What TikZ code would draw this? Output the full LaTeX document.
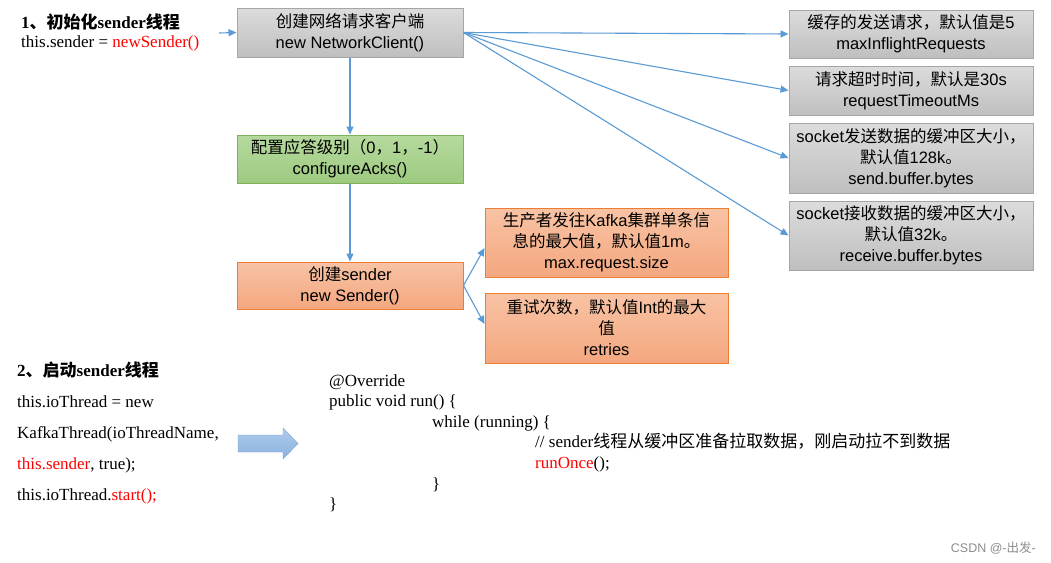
\documentclass[tikz,border=0pt]{standalone}
\usepackage{fontspec}
\setmainfont{Liberation Serif}
\newfontfamily\zh{Noto Sans CJK SC}
\newfontfamily\sans{Liberation Sans}
\newcommand{\cn}[1]{{\zh #1}}
\usetikzlibrary{arrows.meta,positioning,calc}
\definecolor{lnblue}{HTML}{5B9BD5}
\definecolor{kred}{HTML}{FF0000}
\definecolor{grayTop}{HTML}{DCDCDC}
\definecolor{grayBot}{HTML}{BFBFBF}
\definecolor{grayLine}{HTML}{A6A6A6}
\definecolor{greenTop}{HTML}{B6DA9E}
\definecolor{greenBot}{HTML}{9DCA80}
\definecolor{greenLine}{HTML}{7CB35A}
\definecolor{orgTop}{HTML}{F8C3A4}
\definecolor{orgBot}{HTML}{F4A77F}
\definecolor{orgLine}{HTML}{ED7D31}
\definecolor{bigTop}{HTML}{ADCAEA}
\definecolor{bigBot}{HTML}{8CB2DF}
\definecolor{bigLine}{HTML}{7AA6D9}

\begin{document}
\begin{tikzpicture}[x=1pt,y=-1pt,
      box/.style={draw, align=center, inner sep=2pt, line width=1pt,
        font=\sans\fontsize{16.5}{21}\selectfont},
      graybox/.style={box, draw=grayLine, top color=grayTop, bottom color=grayBot},
      greenbox/.style={box, draw=greenLine, top color=greenTop, bottom color=greenBot},
      orgbox/.style={box, draw=orgLine, top color=orgTop, bottom color=orgBot},
      link/.style={draw=lnblue, line width=1.1pt, -{Triangle[length=8pt,width=7pt]}},
      txt/.style={anchor=base west, inner sep=0pt, font=\fontsize{17}{20}\selectfont},
      code/.style={anchor=base west, inner sep=0pt, font=\fontsize{17}{20}\selectfont}]
  \fill[white] (0,0) rectangle (1051,562);
  \useasboundingbox (0,0) rectangle (1051,562);

  % main chain
  \node[graybox, minimum width=226pt, minimum height=49pt] (nc) at (350,32.5)
    {\cn{创建网络请求客户端}\\new NetworkClient()};
  \node[greenbox, minimum width=226pt, minimum height=48pt] (acks) at (350,159)
    {\cn{配置应答级别（}0\cn{，}1\cn{，}-1\cn{）}\\configureAcks()};
  \node[orgbox, minimum width=226pt, minimum height=47pt] (snd) at (350,285.5)
    {\cn{创建}sender\\new Sender()};
  \node[orgbox, minimum width=243pt, minimum height=69pt] (maxreq) at (606.5,242.5)
    {\cn{生产者发往}Kafka\cn{集群单条信}\\\cn{息的最大值，默认值}1m\cn{。}\\max.request.size};
  \node[orgbox, minimum width=243pt, minimum height=70pt] (retry) at (606.5,328)
    {\cn{重试次数，默认值}Int\cn{的最大}\\\cn{值}\\retries};

  % parameters of NetworkClient
  \node[graybox, minimum width=244pt, minimum height=48pt] (r1) at (911,34)
    {\cn{缓存的发送请求，默认值是}5\\maxInflightRequests};
  \node[graybox, minimum width=244pt, minimum height=49pt] (r2) at (911,90.5)
    {\cn{请求超时时间，默认是}30s\\requestTimeoutMs};
  \node[graybox, minimum width=244pt, minimum height=70pt] (r3) at (911,158)
    {socket\cn{发送数据的缓冲区大小，}\\\cn{默认值}128k\cn{。}\\send.buffer.bytes};
  \node[graybox, minimum width=244pt, minimum height=69pt] (r4) at (911,235.5)
    {socket\cn{接收数据的缓冲区大小，}\\\cn{默认值}32k\cn{。}\\receive.buffer.bytes};

  \draw[link] (nc) -- (acks);
  \draw[link] (acks) -- (snd);
  \foreach \r in {r1,r2,r3,r4}
    \draw[link] (nc.east) -- (\r.west);
  \draw[link] (snd.east) -- ([yshift=-5.5pt]maxreq.west);
  \draw[link] (snd.east) -- ([yshift=4pt]retry.west);

  % step 1
  \node[txt] (t1) at (21,28) {\textbf{1\cn{、}{\zh\bfseries 初始化}sender{\zh\bfseries 线程}}};
  \node[txt] (t1a) at (21,47) {this.sender = \textcolor{kred}{newSender()}};
  \coordinate (ent) at (219,33);
  \draw[link] (ent) -- (nc.west);

  % step 2
  \node[txt] (t2) at (17,376) {\textbf{2\cn{、}{\zh\bfseries 启动}sender{\zh\bfseries 线程}}};
  \node[txt] (t2a) at (17,407) {this.ioThread = new};
  \node[txt] (t2b) at (17,438) {KafkaThread(ioThreadName,};
  \node[txt] (t2c) at (17,469) {\textcolor{kred}{this.sender}, true);};
  \node[txt] (t2d) at (17,500) {this.ioThread.\textcolor{kred}{start();}};

  \draw[draw=bigLine, top color=bigTop, bottom color=bigBot]
    (238,435) -- (283,435) -- (283,428) -- (298,443.5) -- (283,459)
    -- (283,452) -- (238,452) -- cycle;

  % run() code
  \node[code] (c1) at (329,386) {@Override};
  \node[code] (c2) at (329,406) {public void run() \{};
  \node[code] (c3) at (432,427) {while (running) \{};
  \node[code] (c4) at (535,447) {// sender\cn{线程从缓冲区准备拉取数据，刚启动拉不到数据}};
  \node[code] (c5) at (535,468) {\textcolor{kred}{runOnce}();};
  \node[code] (c6) at (432,489) {\}};
  \node[code] (c7) at (329,509) {\}};

  \node[anchor=base east, inner sep=0pt, text=black!45,
    font=\sans\fontsize{12.5}{14}\selectfont] (wm) at (1036,552) {CSDN @-\cn{出发}-};
\end{tikzpicture}
\end{document}
